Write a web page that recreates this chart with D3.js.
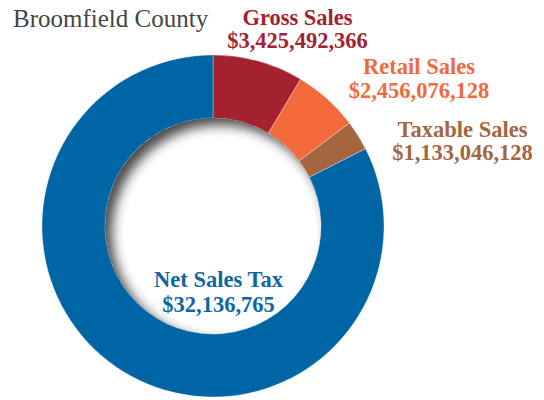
<!DOCTYPE html>
<html>
<head>
<meta charset="utf-8">
<script src="https://cdn.jsdelivr.net/npm/d3@7"></script>
<style>
  html, body { margin: 0; padding: 0; background: #ffffff; }
  svg { display: block; }
</style>
</head>
<body>
<div id="chart"></div>
<script>
// Sales figures for the county
const categories = ["Gross Sales", "Retail Sales", "Taxable Sales", "Net Sales Tax"];
const salesValues = [3425492366, 2456076128, 1133046128, 32136765];
const valueLabels = ["$3,425,492,366", "$2,456,076,128", "$1,133,046,128", "$32,136,765"];
// The ring is scaled against this total; the last slice fills the remainder
const ringTotal = 40000000000;
const colors = ["#a4222f", "#f26a3b", "#a4663f", "#0065a4"];
const labelColors = ["#a4222f", "#f26a3b", "#a4663f", "#0e66a4"];
const titleText = "Broomfield County";

const width = 544, height = 400;
const cx = 213, cy = 226, outerR = 171, innerR = 108;

const svg = d3.select("#chart").append("svg")
  .attr("width", width).attr("height", height);

const defs = svg.append("defs");
defs.append("clipPath").attr("id", "hole")
  .append("circle").attr("cx", cx).attr("cy", cy).attr("r", innerR);
const blur = defs.append("filter").attr("id", "soft")
  .attr("x", "-50%").attr("y", "-50%").attr("width", "200%").attr("height", "200%");
blur.append("feGaussianBlur").attr("stdDeviation", 6);

// slice amounts: first three from their sales value, last one is what remains
const sliceAmounts = salesValues.slice(0, 3);
sliceAmounts.push(ringTotal - d3.sum(sliceAmounts));

const pie = d3.pie().sort(null).value(d => d);
const arc = d3.arc().innerRadius(innerR).outerRadius(outerR);

const ring = svg.append("g").attr("transform", `translate(${cx},${cy})`);
ring.selectAll("path")
  .data(pie(sliceAmounts))
  .join("path")
  .attr("d", arc)
  .attr("fill", (d, i) => colors[i])
  .attr("stroke", "rgba(255,255,255,0.55)")
  .attr("stroke-width", 0.6);

// inner shadow cast onto the hole
const shadowG = svg.append("g").attr("clip-path", "url(#hole)");
const off = 7;
shadowG.append("path")
  .attr("d", `M${cx - 300},${cy - 300}h600v600h-600Z` +
    `M${cx + off + innerR},${cy + off}` +
    `A${innerR},${innerR} 0 1 0 ${cx + off - innerR},${cy + off}` +
    `A${innerR},${innerR} 0 1 0 ${cx + off + innerR},${cy + off}Z`)
  .attr("fill", "#2a2a2a")
  .attr("fill-rule", "evenodd")
  .attr("opacity", 0.85)
  .attr("filter", "url(#soft)");

// title
svg.append("text")
  .attr("x", 13).attr("y", 27)
  .attr("font-family", "Liberation Serif, serif")
  .attr("font-size", 25)
  .attr("fill", "#444444")
  .text(titleText);

// labels
const labelPos = [
  { x: 297.5, y1: 25, y2: 48 },
  { x: 419, y1: 74, y2: 98 },
  { x: 462.5, y1: 137, y2: 160 },
  { x: 218.5, y1: 287, y2: 312 }
];
const labels = svg.append("g")
  .attr("font-family", "Liberation Serif, serif")
  .attr("font-weight", "bold")
  .attr("font-size", 22.5)
  .attr("text-anchor", "middle");
categories.forEach((c, i) => {
  const p = labelPos[i];
  labels.append("text").attr("x", p.x).attr("y", p.y1)
    .attr("fill", labelColors[i]).text(c);
  labels.append("text").attr("x", p.x).attr("y", p.y2)
    .attr("fill", labelColors[i]).text(valueLabels[i]);
});
</script>
</body>
</html>
